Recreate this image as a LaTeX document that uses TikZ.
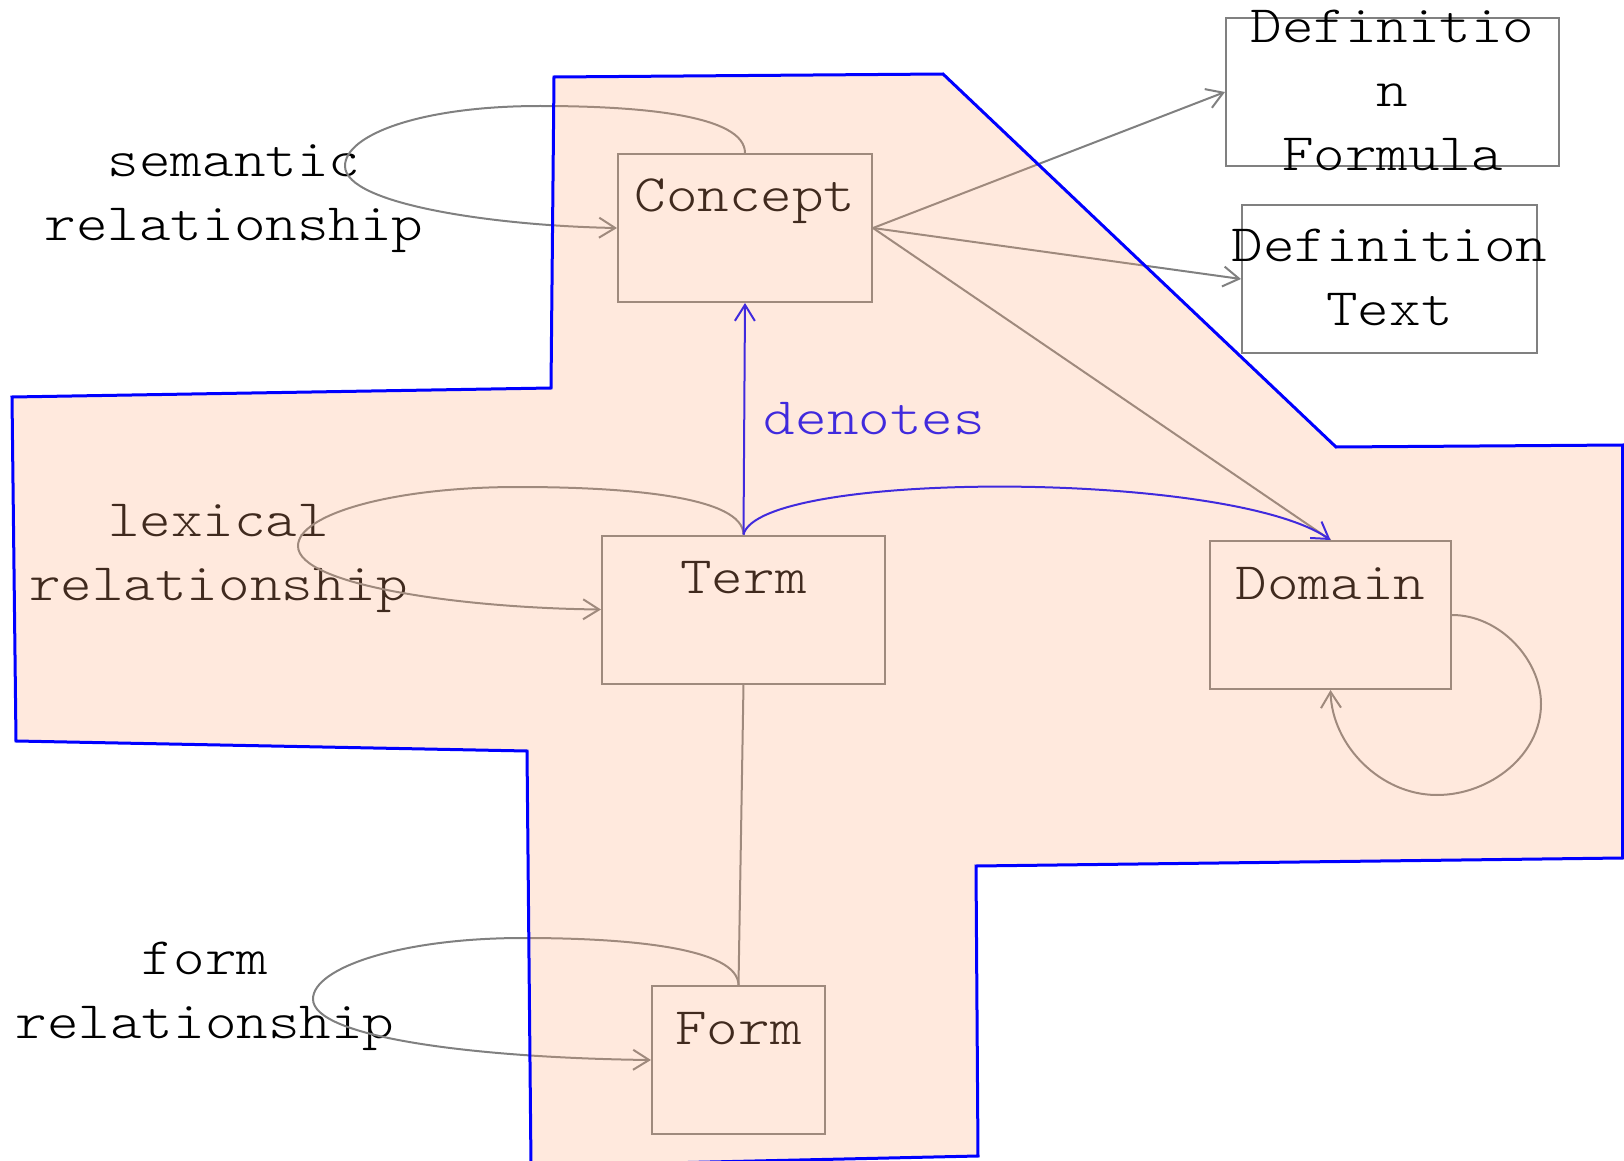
\documentclass[tikz,border=0pt]{standalone}
\usepackage{fontspec}
\setmonofont{lmmonolt10-regular.otf}[FakeStretch=1.143]
\usepackage{tikz}
\usetikzlibrary{arrows.meta}
\definecolor{regionfill}{RGB}{255,168,120}
\definecolor{linegray}{RGB}{128,128,128}
% centred lines of text that take no room of their own
\newcommand{\boxtext}[1]{\makebox[0pt]{\raisebox{-7pt}[0pt][0pt]{\begin{tabular}{@{}c@{}}#1\end{tabular}}}}

\begin{document}
\begin{tikzpicture}[x=0.5pt,y=-0.5pt,
  font=\ttfamily\fontsize{26.3pt}{32pt}\selectfont,
  >={Straight Barb[length=8pt,width=10pt]},
  entity/.style={draw=linegray, line width=1pt, inner sep=0pt, text height=29pt, text depth=45pt},
  defbox/.style={draw=linegray, line width=1pt, inner sep=0pt, minimum height=74pt},
  relname/.style={inner sep=0pt},
  link/.style={draw=linegray, line width=1pt},
  denote/.style={draw=blue, line width=1pt},
  region/.style={draw=blue, line width=1.5pt, fill=regionfill, fill opacity=0.25}]
  \useasboundingbox (0,0) rectangle (1624,1161);
  \node[entity, minimum width=127pt] (concept) at (745,228) {Concept};
  \node[entity, minimum width=141.5pt] (term) at (743.5,609.5) {Term};
  \node[entity, minimum width=120.5pt] (domain) at (1330.5,615) {Domain};
  \node[entity, minimum width=86.5pt] (form) at (738.5,1060) {Form};
  \node[defbox, minimum width=166.5pt] (formula) at (1392.5,92) {\boxtext{Definitio\\n\\Formula}};
  \node[defbox, minimum width=147.5pt] (deftext) at (1389.5,279) {\boxtext{Definition\\Text}};
  \node[relname] (semrel) at (234,194) {\boxtext{semantic\\relationship}};
  \node[relname] (lexrel) at (218.5,554) {\boxtext{lexical\\relationship}};
  \node[relname] (formrel) at (205,992) {\boxtext{form\\relationship}};

  % loops back onto the same box
  \draw[link,->] (concept.north) .. controls (745,115) and (640,106) .. (540,106) .. controls (420,106) and (345,135) .. (345,166) .. controls (345,205) and (500,226) .. (concept.west);
  \draw[link,->] (term.north) .. controls (743,497) and (630,487) .. (518,487) .. controls (390,487) and (298,515) .. (298,546) .. controls (298,585) and (460,608) .. (term.west);
  \draw[link,->] (form.north) .. controls (738,948) and (630,938) .. (523,938) .. controls (400,938) and (313,968) .. (313,999) .. controls (313,1038) and (480,1058) .. (form.west);
  \draw[link,->] (domain.east) .. controls (1500,615) and (1541,660) .. (1541,704) .. controls (1541,755) and (1490,795) .. (1437,795) .. controls (1380,795) and (1332,745) .. (domain.south);

  \draw[link,->] (concept.east) -- (formula.west);
  \draw[link,->] (concept.east) -- (deftext.west);
  \draw[link] (concept.east) -- (domain.north);
  \draw[link] (term.south) -- (form.north);
  \draw[denote,->] (term.north) -- node[midway, right=6pt, text=blue] (denotes) {denotes} (concept.south);
  \draw[denote,->] (term.north) .. controls (760,470) and (1230,470) .. (domain.north);

  % shaded area over the core boxes
  \draw[region] (554,77) -- (943,74) -- (1336,447) -- (1622.5,445) -- (1622.5,858) -- (976,866) -- (978,1156) -- (531,1166) -- (527,751) -- (16,741) -- (12,397) -- (551,388) -- cycle;
\end{tikzpicture}
\end{document}
